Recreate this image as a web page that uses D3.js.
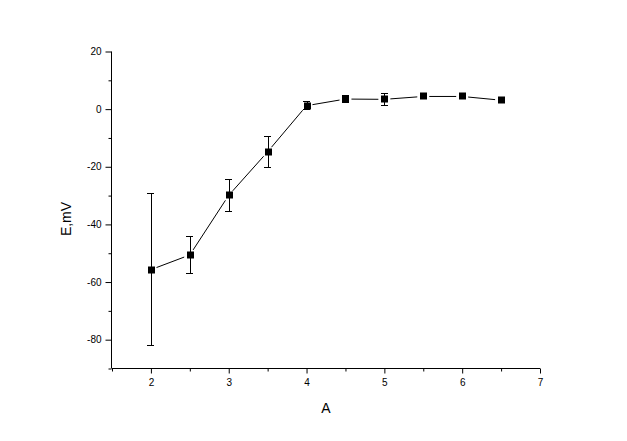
<!DOCTYPE html>
<html>
<head>
<meta charset="utf-8">
<script src="https://cdn.jsdelivr.net/npm/d3@7"></script>
<style>
  html, body { margin: 0; padding: 0; background: #fff; }
  svg { display: block; }
  text { font-family: Arial, "Liberation Sans", sans-serif; fill: #000; }
</style>
</head>
<body>
<svg id="chart" width="627" height="441"></svg>
<script>
const xValues = [2, 2.5, 3, 3.5, 4, 4.5, 5, 5.5, 6, 6.5];
const yValues = [-55.7, -50.6, -29.9, -14.8, 1.2, 3.5, 3.4, 4.4, 4.4, 3.1];
const yErrors = [26.3, 6.5, 5.5, 5.3, 1.3, 1.2, 2.0, 0.6, 0.6, 0.8];
const xTicks = [2, 3, 4, 5, 6, 7];
const xMinorTicks = [1.5, 2.5, 3.5, 4.5, 5.5, 6.5];
const yTicks = [20, 0, -20, -40, -60, -80];
const yMinorTicks = [10, -10, -30, -50, -70, -90];
const xTitle = "A";
const yTitle = "E,mV";

const svg = d3.select("#chart");
const x = d3.scaleLinear().domain([1.5, 7]).range([112, 540]);
const y = d3.scaleLinear().domain([-90, 20]).range([368.5, 51.5]);

const data = xValues.map((v, i) => ({x: v, y: yValues[i], e: yErrors[i]}));

const xAxis = d3.axisBottom(x).tickValues(xTicks).tickSize(5).tickPadding(5).tickFormat(d3.format("d"));
const xMinor = d3.axisBottom(x).tickValues(xMinorTicks).tickSize(3).tickFormat("");
const yAxis = d3.axisLeft(y).tickValues(yTicks).tickSize(6).tickPadding(4).tickFormat(d => d < 0 ? "-" + Math.abs(d) : d);
const yMinor = d3.axisLeft(y).tickValues(yMinorTicks).tickSize(3).tickFormat("");

function style(g) {
  g.select(".domain").attr("stroke", "#000").attr("stroke-width", 1);
  g.selectAll(".tick line").attr("stroke", "#000").attr("stroke-width", 1);
  g.selectAll(".tick text").attr("font-size", "10px").attr("font-family", "Arial, 'Liberation Sans', sans-serif").attr("fill", "#111");
}

const xg = svg.append("g").attr("transform", "translate(0,368.5)").call(xAxis).call(style);
const xmg = svg.append("g").attr("transform", "translate(0,368.5)").call(xMinor).call(style);
const yg = svg.append("g").attr("transform", "translate(111.5,0)").call(yAxis).call(style);
const ymg = svg.append("g").attr("transform", "translate(111.5,0)").call(yMinor).call(style);
xg.select(".domain").attr("d", `M${x(1.5)},0H${x(7)}`);
yg.select(".domain").attr("d", `M0,${y(20)}V${y(-90)}`);
xmg.select(".domain").remove();
ymg.select(".domain").remove();

svg.append("text").attr("x", 326).attr("y", 413).attr("text-anchor", "middle").attr("font-size", "14px").text(xTitle);
svg.append("text").attr("transform", "translate(71,219) rotate(-90)").attr("text-anchor", "middle").attr("font-size", "14px").text(yTitle);

const gap = 6;
const segs = [];
for (let i = 0; i < data.length - 1; i++) {
  const x1 = x(data[i].x), y1 = y(data[i].y), x2 = x(data[i+1].x), y2 = y(data[i+1].y);
  const dx = x2 - x1, dy = y2 - y1, len = Math.hypot(dx, dy);
  const ux = dx / len, uy = dy / len;
  segs.push([x1 + ux*gap, y1 + uy*gap, x2 - ux*gap, y2 - uy*gap]);
}
svg.append("g").selectAll("line").data(segs).join("line")
  .attr("x1", d => d[0]).attr("y1", d => d[1]).attr("x2", d => d[2]).attr("y2", d => d[3])
  .attr("stroke", "#000").attr("stroke-width", 1);

const eb = svg.append("g").attr("stroke", "#000").attr("stroke-width", 1).attr("shape-rendering", "crispEdges");
eb.selectAll(".v").data(data).join("line")
  .attr("x1", d => Math.round(x(d.x)) + 0.5).attr("x2", d => Math.round(x(d.x)) + 0.5)
  .attr("y1", d => y(d.y + d.e)).attr("y2", d => y(d.y - d.e));
eb.selectAll(".t").data(data).join("line")
  .attr("x1", d => x(d.x) - 3.5).attr("x2", d => x(d.x) + 3.5)
  .attr("y1", d => y(d.y + d.e)).attr("y2", d => y(d.y + d.e));
eb.selectAll(".b").data(data).join("line")
  .attr("x1", d => x(d.x) - 3.5).attr("x2", d => x(d.x) + 3.5)
  .attr("y1", d => y(d.y - d.e)).attr("y2", d => y(d.y - d.e));

svg.append("g").selectAll("rect").data(data).join("rect")
  .attr("x", d => Math.round(x(d.x)) - 3).attr("y", d => Math.round(y(d.y)) - 3.5)
  .attr("width", 7).attr("height", 7).attr("fill", "#000");
</script>
</body>
</html>
